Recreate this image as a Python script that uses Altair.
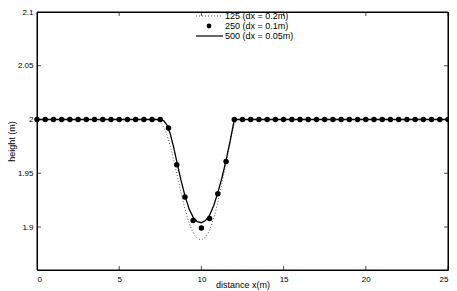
import altair as alt
import pandas as pd

# ---- data ----
series = ["125 (dx = 0.2m)", "250 (dx = 0.1m)", "500 (dx = 0.05m)"]

x125 = [0, 7.2, 7.4, 7.6, 7.8, 8.0, 8.2, 8.4, 8.6, 8.8, 9.0, 9.2, 9.4, 9.6, 9.8,
        10.0, 10.2, 10.4, 10.6, 10.8, 11.0, 11.2, 11.4, 11.6, 11.8, 12.0, 12.2, 12.4, 25]
y125 = [2.0, 2.0, 1.999, 1.996, 1.990, 1.981, 1.970, 1.957, 1.943, 1.929, 1.917, 1.906,
        1.898, 1.892, 1.889, 1.888, 1.890, 1.894, 1.901, 1.911, 1.923, 1.937, 1.952,
        1.968, 1.984, 1.996, 2.0, 2.0, 2.0]

x250 = [0, 0.5, 1, 1.5, 2, 2.5, 3, 3.5, 4, 4.5, 5, 5.5, 6, 6.5, 7, 7.5, 8, 8.5, 9, 9.5,
        10, 10.5, 11, 11.5, 12, 12.5, 13, 13.5, 14, 14.5, 15, 15.5, 16, 16.5, 17, 17.5,
        18, 18.5, 19, 19.5, 20, 20.5, 21, 21.5, 22, 22.5, 23, 23.5, 24, 24.5, 25]
y250 = [2.0, 2.0, 2.0, 2.0, 2.0, 2.0, 2.0, 2.0, 2.0, 2.0, 2.0, 2.0, 2.0, 2.0, 2.0, 2.0,
        1.992, 1.958, 1.928, 1.906, 1.899, 1.908, 1.931, 1.961,
        2.0, 2.0, 2.0, 2.0, 2.0, 2.0, 2.0, 2.0, 2.0, 2.0, 2.0, 2.0, 2.0, 2.0, 2.0, 2.0,
        2.0, 2.0, 2.0, 2.0, 2.0, 2.0, 2.0, 2.0, 2.0, 2.0, 2.0]

x500 = [0, 7.5, 7.7, 7.9, 8.1, 8.3, 8.5, 8.75, 9.0, 9.25, 9.5, 9.75, 10.0, 10.25, 10.5,
        10.75, 11.0, 11.25, 11.5, 11.75, 11.95, 12.05, 25]
y500 = [2.0, 2.0, 1.999, 1.995, 1.987, 1.975, 1.961, 1.944, 1.929, 1.917, 1.909, 1.905,
        1.904, 1.906, 1.911, 1.920, 1.932, 1.946, 1.962, 1.980, 1.996, 2.0, 2.0]

x_ticks = [0, 5, 10, 15, 20, 25]
y_ticks = [1.9, 1.95, 2.0, 2.05, 2.1]
x_domain = [0, 25]
y_domain = [1.86, 2.1]

W, H = 411, 258

df125 = pd.DataFrame({"x": x125, "y": y125})
df250 = pd.DataFrame({"x": x250, "y": y250})
df500 = pd.DataFrame({"x": x500, "y": y500})
dfleg = pd.DataFrame({"series": series, "x": [0, 0, 0], "y": [2.0, 2.0, 2.0]})
dfxt = pd.DataFrame({"x": x_ticks})
dfyt = pd.DataFrame({"y": y_ticks})
dfbox = pd.DataFrame({"x": [x_domain[0]], "x2": [x_domain[1]],
                      "y": [y_domain[0]], "y2": [y_domain[1]]})

FONT = "Liberation Sans"
xs = alt.Scale(domain=x_domain, nice=False, zero=False)
ys = alt.Scale(domain=y_domain, nice=False, zero=False)

txt = dict(labelFont=FONT, labelFontSize=8, labelColor="black",
           titleFont=FONT, titleFontSize=9, titleFontWeight="normal", titleColor="black",
           grid=False, domain=False, ticks=False, tickSize=0)

x_bottom = alt.Axis(values=x_ticks, title="distance x(m)", labelPadding=5,
                    titleY=10, titleBaseline="top", **txt)
y_left = alt.Axis(values=y_ticks, format="~g", title="height (m)", labelPadding=4,
                  titleX=-26, titleY=H / 2, titleAngle=270, titleAlign="center",
                  titleBaseline="middle", **txt)

dotted = alt.Chart(df125).mark_line(color="#555555", strokeWidth=1, strokeDash=[1, 2]).encode(
    x=alt.X("x:Q", scale=xs, axis=x_bottom),
    y=alt.Y("y:Q", scale=ys, axis=y_left),
)
solid = alt.Chart(df500).mark_line(color="black", strokeWidth=1.3).encode(
    x=alt.X("x:Q", scale=xs),
    y=alt.Y("y:Q", scale=ys),
)
pts = alt.Chart(df250).mark_point(filled=True, shape="circle", size=30, color="black", opacity=1).encode(
    x=alt.X("x:Q", scale=xs),
    y=alt.Y("y:Q", scale=ys),
)

# frame and inward ticks (MATLAB style)
box = alt.Chart(dfbox).mark_rect(fill=None, fillOpacity=0, stroke="black", strokeWidth=1).encode(
    x=alt.X("x:Q", scale=xs), x2="x2:Q", y=alt.Y("y:Q", scale=ys), y2="y2:Q")
xt_b = alt.Chart(dfxt).mark_tick(color="black", size=8, thickness=1, clip=True).encode(
    x=alt.X("x:Q", scale=xs), y=alt.value(H))
xt_t = alt.Chart(dfxt).mark_tick(color="black", size=8, thickness=1, clip=True).encode(
    x=alt.X("x:Q", scale=xs), y=alt.value(0))
yt_l = alt.Chart(dfyt).mark_tick(color="black", size=8, thickness=1, clip=True).encode(
    y=alt.Y("y:Q", scale=ys), x=alt.value(0))
yt_r = alt.Chart(dfyt).mark_tick(color="black", size=8, thickness=1, clip=True).encode(
    y=alt.Y("y:Q", scale=ys), x=alt.value(W))

dot_path = "".join(f"M{-5.5 + 0.75 * i:.2f},0L{-5.25 + 0.75 * i:.2f},0" for i in range(9))
circ_path = ("M-2.7,0A0.45,0.45,0,1,1,-1.8,0A0.45,0.45,0,1,1,-2.7,0Z"
             "M-2.4,0A0.15,0.15,0,1,1,-2.1,0A0.15,0.15,0,1,1,-2.4,0Z")
line_path = "M-5.5,0L1.25,0"

leg = alt.Legend(title=None, orient="none", legendX=176, legendY=-1, symbolSize=64,
                 symbolStrokeWidth=1.2, symbolOpacity=1,
                 labelFont=FONT, labelFontSize=9, labelColor="black", labelOffset=2,
                 rowPadding=-2, padding=0)
legend_layer = alt.Chart(dfleg).mark_point(filled=False, opacity=0).encode(
    x=alt.X("x:Q", scale=xs),
    y=alt.Y("y:Q", scale=ys),
    shape=alt.Shape("series:N", scale=alt.Scale(domain=series, range=[dot_path, circ_path, line_path]), legend=leg),
    color=alt.Color("series:N", scale=alt.Scale(domain=series, range=["#555555", "black", "black"]), legend=leg),
)

chart = alt.layer(dotted, solid, pts, box, xt_b, xt_t, yt_l, yt_r, legend_layer).properties(
    width=W, height=H,
    autosize=alt.AutoSizeParams(type="none"),
    padding={"left": 29, "top": 4, "right": 1, "bottom": 22},
).configure_view(stroke="black", strokeWidth=1)

chart.save("out.html", embed_options={"renderer": "svg", "actions": False})
